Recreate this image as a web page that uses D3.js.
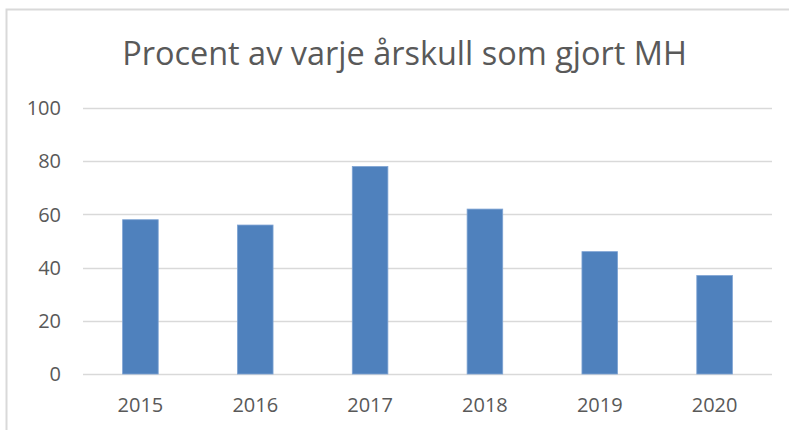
<!DOCTYPE html>
<html>
<head>
<meta charset="utf-8">
<script src="https://cdn.jsdelivr.net/npm/d3@7"></script>
<style>
  body { margin: 0; background: #fff; }
  text { font-family: "Open Sans", sans-serif; fill: #595959; }
</style>
</head>
<body>
<svg id="chart" width="789" height="430"></svg>
<script>
var years = ["2015", "2016", "2017", "2018", "2019", "2020"];
var percent = [58, 56, 78, 62, 46, 37];
var yTicks = [0, 20, 40, 60, 80, 100];
var title = "Procent av varje årskull som gjort MH";

var svg = d3.select("#chart");

// chart frame (right and bottom edges fall outside the picture)
svg.append("rect")
	.attr("x", 6.5).attr("y", 9.5)
	.attr("width", 820).attr("height", 460)
	.attr("fill", "none")
	.attr("stroke", "#d9d9d9")
	.attr("stroke-width", 2);

var plotLeft = 83, plotRight = 772, plotTop = 108, plotBottom = 374;

var x = d3.scaleBand()
	.domain(years)
	.range([plotLeft, plotRight])
	.paddingInner(0.69)
	.paddingOuter(0.345);

var y = d3.scaleLinear()
	.domain([0, 100])
	.range([plotBottom, plotTop]);

// gridlines
svg.append("g")
	.selectAll("line")
	.data(yTicks)
	.enter().append("line")
		.attr("x1", plotLeft).attr("x2", plotRight)
		.attr("y1", function(d) {return Math.round(y(d)) + 0.5;})
		.attr("y2", function(d) {return Math.round(y(d)) + 0.5;})
		.attr("stroke", "#d9d9d9")
		.attr("stroke-width", 1.3);

// y labels
svg.append("g")
	.selectAll("text")
	.data(yTicks)
	.enter().append("text")
		.attr("x", 61)
		.attr("y", function(d) {return y(d);})
		.attr("dy", "0.36em")
		.style("text-anchor", "end")
		.style("font-size", "20px")
		.text(function(d) {return d;});

// bars
svg.append("g")
	.selectAll("rect")
	.data(percent)
	.enter().append("rect")
		.attr("x", function(d, i) {return x(years[i]);})
		.attr("y", function(d) {return y(d);})
		.attr("width", x.bandwidth())
		.attr("height", function(d) {return y(0) - y(d);})
		.attr("fill", "#4f81bd")
		.attr("stroke", "#7ea3d3")
		.attr("stroke-width", 0.8);

// x labels
svg.append("g")
	.selectAll("text")
	.data(years)
	.enter().append("text")
		.attr("x", function(d) {return x(d) + x.bandwidth() / 2;})
		.attr("y", 411.5)
		.style("text-anchor", "middle")
		.style("font-size", "20px")
		.text(function(d) {return d;});

// title, sized to the width it has in the reference
var t = svg.append("text")
	.attr("x", 404.5)
	.attr("y", 64.5)
	.style("text-anchor", "middle")
	.style("font-size", "30px")
	.text(title);
var w = t.node().getComputedTextLength();
t.style("font-size", (30 * 565 / w) + "px");
</script>
</body>
</html>
